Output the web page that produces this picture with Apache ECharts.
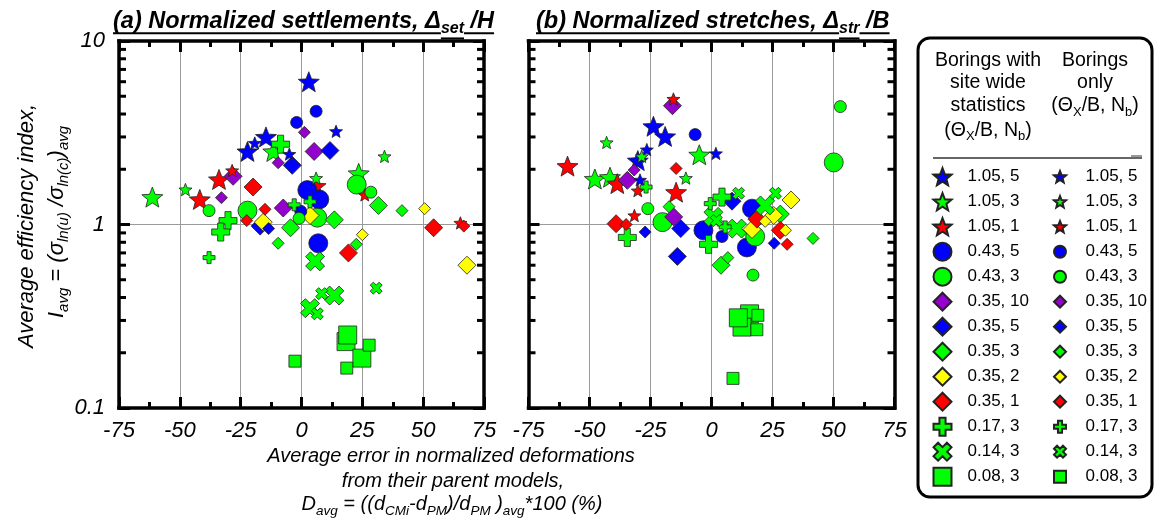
<!DOCTYPE html>
<html>
<head>
<meta charset="utf-8">
<script src="https://cdn.jsdelivr.net/npm/echarts@6/dist/echarts.min.js"></script>
<style>
  html, body { margin: 0; padding: 0; background: #fff; }
  #chart { width: 1154px; height: 531px; }
</style>
</head>
<body>
<div id="chart"></div>
<script>
// ---- Groups: (Theta_x / B, N_b) ----
const groupLabels = ['1.05, 5', '1.05, 3', '1.05, 1', '0.43, 5', '0.43, 3', '0.35, 10',
  '0.35, 5', '0.35, 3', '0.35, 2', '0.35, 1', '0.17, 3', '0.14, 3', '0.08, 3'];

// ---- (a) Normalized settlements: [D_avg (%), I_avg] per group ----
const settleSite = [
  [[3, 6.0], [-14.6, 3.0], [-22.2, 2.5]],
  [[-61.3, 1.41], [-11.6, 2.5], [23.5, 1.9]],
  [[-33.9, 1.76], [-41.8, 1.37], [5.8, 1.62]],
  [[2.4, 1.54], [7.3, 1.37], [6.9, 0.79]],
  [[-22.2, 1.19], [6.5, 1.09], [22.7, 1.65]],
  [[5.2, 2.5], [-7.5, 1.23], [-28.1, 1.83]],
  [[11.7, 2.53], [-3.8, 2.1], [-17, 0.98]],
  [[-4.5, 0.96], [13.5, 1.06], [31.6, 1.27]],
  [[-15.7, 1.03], [3.5, 1.12], [68, 0.6]],
  [[-19.9, 1.6], [54.3, 0.96], [19.3, 0.7]],
  [[-30.2, 1.05], [-33.2, 0.91], [-8.6, 2.74]],
  [[5.6, 0.63], [3.5, 0.35], [13.5, 0.41]],
  [[18.3, 0.23], [24.8, 0.187], [19, 0.25]]
];
const settleBoring = [
  [[-19.2, 2.78], [-5, 2.42], [14.2, 3.22]],
  [[-47.7, 1.55], [34.1, 2.35], [6, 1.79]],
  [[-28.5, 1.97], [65.3, 1.02], [26, 1.45]],
  [[-2, 3.6], [6, 4.14], [-0.3, 1.18]],
  [[-38, 1.19], [-1, 1.08], [28.5, 1.5]],
  [[1.2, 3.18], [-9.6, 2.17], [-32.9, 1.4]],
  [[-13.5, 0.95]],
  [[-9.6, 0.79], [41.3, 1.19], [22.5, 0.78]],
  [[50.6, 1.22], [25, 0.88]],
  [[-15, 1.21], [-22.5, 1.05], [66.7, 0.98]],
  [[-38, 0.66], [-3, 1.28], [3.5, 1.33]],
  [[6.5, 0.326], [8.3, 0.42], [30.7, 0.45]],
  [[-2.7, 0.18], [18.6, 0.165], [27.8, 0.22]]
];

// ---- (b) Normalized stretches: [D_avg (%), I_avg] per group ----
const stretchSite = [
  [[-23.8, 3.43], [-19, 3.02], [-30.2, 2.23]],
  [[-47.8, 1.77], [-41.6, 1.81], [-5, 2.4]],
  [[-59, 2.08], [-38.6, 1.67], [-14.5, 1.5]],
  [[16.6, 1.22], [-3.3, 0.93], [14.5, 0.75]],
  [[-20.1, 1.03], [17.9, 0.86], [50.1, 2.18]],
  [[-16, 4.44], [-34.5, 1.74], [-15.5, 1.1]],
  [[-12.6, 0.95], [-14, 0.67], [8.4, 1.34]],
  [[3.9, 0.6], [28.2, 1.14]],
  [[32.6, 1.36], [25.5, 1.12], [16.6, 0.94]],
  [[-39.1, 1.01], [28.2, 0.93], [18.6, 1.07]],
  [[4.3, 1.41], [-1.2, 0.78], [-34.5, 0.85]],
  [[0.8, 1.1], [10.4, 0.95], [22, 1.27]],
  [[15.6, 0.326], [12.5, 0.276], [11, 0.31]]
];
const stretchBoring = [
  [[-26.5, 2.56], [-29.3, 1.75], [1.8, 2.44]],
  [[-43, 2.8], [-10.5, 1.79], [-28.6, 2.35]],
  [[-15.6, 4.83], [-30.2, 1.53], [-31.6, 1.12]],
  [[-6.7, 3.09], [4.3, 0.86]],
  [[-26.1, 1.22], [52.8, 4.39], [17, 0.53]],
  [[-31.7, 1.98]],
  [[-27.2, 0.91], [25.7, 0.79]],
  [[-17.4, 1.25], [41.6, 0.84], [6.7, 0.66]],
  [[22, 1.04], [30.3, 0.93]],
  [[-14.5, 2.02], [-35, 1.0], [31, 0.78]],
  [[-0.5, 1.3], [5.6, 0.97], [-26.8, 1.6]],
  [[11.1, 1.48], [26.2, 1.48], [2, 1.05]],
  [[8.8, 0.145], [18.6, 0.267], [19, 0.32]]
];

// ---- Axis scales ----
const xMin = -75, xMax = 75, xStep = 25;
const yMin = 0.1, yMax = 10;
const yMinorTicks = [0.2, 0.3, 0.4, 0.5, 0.6, 0.7, 0.8, 0.9, 2, 3, 4, 5, 6, 7, 8, 9];

// ---- Marker shapes ----
function starPath(inner) {
  let d = '';
  for (let i = 0; i < 10; i++) {
    const r = i % 2 ? inner * 100 : 100;
    const a = -Math.PI / 2 + i * Math.PI / 5;
    d += (i ? 'L' : 'M') + (r * Math.cos(a)).toFixed(2) + ',' + (r * Math.sin(a)).toFixed(2);
  }
  return 'path://' + d + 'Z';
}
const plusPts = [[-17, -50], [17, -50], [17, -17], [50, -17], [50, 17], [17, 17], [17, 50],
  [-17, 50], [-17, 17], [-50, 17], [-50, -17], [-17, -17]];
function polyPath(pts) {
  return 'path://' + pts.map((p, i) => (i ? 'L' : 'M') + p[0].toFixed(2) + ',' + p[1].toFixed(2)).join('') + 'Z';
}
const STAR = starPath(0.43);
const PLUS = polyPath(plusPts);
const CROSS = polyPath(plusPts.map(([x, y]) => [(x - y) / Math.SQRT2, (x + y) / Math.SQRT2]));

const BLUE = '#0000ff', GREEN = '#00ff00', RED = '#ff0000', PURPLE = '#9400cc', YELLOW = '#ffff00';
const groupSymbols = [STAR, STAR, STAR, 'circle', 'circle', 'diamond', 'diamond', 'diamond',
  'diamond', 'diamond', PLUS, CROSS, 'rect'];
const groupColors = [BLUE, GREEN, RED, BLUE, GREEN, PURPLE, BLUE, GREEN, YELLOW, RED, GREEN, GREEN, GREEN];
const bigSize = { star: 21, circle: 19, diamond: 18, plus: 18, cross: 19, rect: 18 };
const smallSize = { star: 13, circle: 12, diamond: 12, plus: 12, cross: 12, rect: 12 };
function shapeKey(sym) {
  if (sym === STAR) return 'star';
  if (sym === PLUS) return 'plus';
  if (sym === CROSS) return 'cross';
  return sym;
}

const FONT = '"Liberation Sans", Arial, Helvetica, sans-serif';

// ---- Text runs with subscripts (measured so underlines fit) ----
const measureCtx = document.createElement('canvas').getContext('2d');
function measure(text, size, style, weight) {
  measureCtx.font = `${style} ${weight} ${size}px ${FONT}`;
  return measureCtx.measureText(text).width;
}
function textLine(runs, o) {
  const style = o.style || 'normal', weight = o.weight || 'normal';
  const items = runs.map(([t, sub]) => {
    const size = sub ? o.subSize : o.size;
    return { t, sub, size, w: measure(t, size, style, weight) };
  });
  const total = items.reduce((s, it) => s + it.w, 0);
  let x = o.align === 'left' ? 0 : -total / 2;
  const children = [];
  items.forEach(it => {
    const y = it.sub ? o.drop : 0;
    children.push({
      type: 'text', x, y, silent: true,
      style: { text: it.t, fontSize: it.size, fontFamily: FONT, fontStyle: style, fontWeight: weight,
        fill: '#000', align: 'left', verticalAlign: 'middle' }
    });
    if (o.underline) {
      const uy = y + (it.sub ? it.size * 0.62 : it.size * 0.5);
      children.push({ type: 'line', silent: true, shape: { x1: x, y1: uy, x2: x + it.w, y2: uy },
        style: { stroke: '#000', lineWidth: 2 } });
    }
    x += it.w;
  });
  return { type: 'group', x: o.x, y: o.y, rotation: o.rotation || 0, children };
}

// ---- Axes ----
function bottomX(gridIndex) {
  return {
    type: 'value', gridIndex, position: 'bottom', min: xMin, max: xMax, interval: xStep,
    axisLine: { show: true, onZero: false, lineStyle: { color: '#000', width: 3.5, cap: 'square' } },
    axisTick: { show: true, inside: true, length: 11, lineStyle: { color: '#000', width: 3 } },
    minorTick: { show: true, splitNumber: 2, length: 6, lineStyle: { color: '#000', width: 3 } },
    splitLine: { show: true, lineStyle: { color: '#9a9a9a', width: 1 } },
    axisLabel: { show: true, margin: 12, color: '#000', fontSize: 22, fontStyle: 'italic', fontFamily: FONT }
  };
}
function topX(gridIndex) {
  return {
    type: 'value', gridIndex, position: 'top', min: xMin, max: xMax, interval: xStep,
    axisLine: { show: true, onZero: false, lineStyle: { color: '#000', width: 3.5, cap: 'square' } },
    axisTick: { show: true, inside: true, length: 11, lineStyle: { color: '#000', width: 3 } },
    minorTick: { show: true, splitNumber: 2, length: 6, lineStyle: { color: '#000', width: 3 } },
    splitLine: { show: false }, axisLabel: { show: false }
  };
}
function sideY(gridIndex, position, labels) {
  return {
    type: 'log', logBase: 10, gridIndex, position, min: yMin, max: yMax,
    axisLine: { show: true, onZero: false, lineStyle: { color: '#000', width: 3.5, cap: 'square' } },
    axisTick: { show: true, inside: true, length: 11, lineStyle: { color: '#000', width: 3 } },
    splitLine: { show: position === 'left', lineStyle: { color: '#9a9a9a', width: 1 } },
    axisLabel: { show: labels, margin: 14, color: '#000', fontSize: 22, fontStyle: 'italic', fontFamily: FONT }
  };
}

// Minor ticks at 2..9 of each decade, on both vertical frame edges
function minorTickSeries(xi, yi) {
  return {
    type: 'custom', xAxisIndex: xi, yAxisIndex: yi, silent: true, z: 5, clip: false,
    data: yMinorTicks.map(v => [xMin, v]),
    encode: { x: 0, y: 1 },
    renderItem: (params, api) => {
      const v = api.value(1);
      const p0 = api.coord([xMin, v]);
      const p1 = api.coord([xMax, v]);
      return {
        type: 'group', children: [
          { type: 'line', shape: { x1: p0[0], y1: p0[1], x2: p0[0] + 7, y2: p0[1] }, style: { stroke: '#000', lineWidth: 3 } },
          { type: 'line', shape: { x1: p1[0] - 7, y1: p1[1], x2: p1[0], y2: p1[1] }, style: { stroke: '#000', lineWidth: 3 } }
        ]
      };
    }
  };
}

// ---- Scatter series ----
const series = [];
function addScatter(kind, xi, yi, lists) {
  lists.forEach((pts, g) => {
    const sym = groupSymbols[g];
    const size = (kind === 'site' ? bigSize : smallSize)[shapeKey(sym)];
    series.push({
      type: 'scatter', name: groupLabels[g] + '|' + kind, xAxisIndex: xi, yAxisIndex: yi,
      symbol: sym, symbolSize: size, symbolKeepAspect: true, silent: true,
      itemStyle: { color: groupColors[g], borderColor: '#222', borderWidth: 0.8, opacity: 1 },
      data: pts
    });
  });
}
addScatter('site', 0, 0, settleSite);
addScatter('site', 2, 2, stretchSite);
addScatter('boring', 0, 0, settleBoring);
addScatter('boring', 2, 2, stretchBoring);
series.push(minorTickSeries(0, 0));
series.push(minorTickSeries(2, 2));

// ---- Legend ----
const legendText = { fontSize: 17, fontFamily: FONT, color: '#000', lineHeight: 25 };
const legends = [
  {
    data: groupLabels.map(l => l + '|site'), orient: 'vertical', left: 932.5, top: 164.2,
    itemWidth: 18, itemHeight: 18, itemGap: 0, padding: 0, selectedMode: false,
    formatter: n => n.split('|')[0],
    textStyle: Object.assign({ padding: [0, 0, 0, 11] }, legendText)
  },
  {
    data: groupLabels.map(l => l + '|boring'), orient: 'vertical', left: 1053, top: 164.2,
    itemWidth: 12, itemHeight: 12, itemGap: 0, padding: 0, selectedMode: false,
    formatter: n => n.split('|')[0],
    textStyle: Object.assign({ padding: [0, 0, 0, 14.5] }, legendText)
  }
];

// ---- Titles, axis names and legend frame ----
const thetaRuns = [['(Θ', 0], ['X', 1], ['/B, N', 0], ['b', 1], [')', 0]];
const head = { size: 19.5, subSize: 13, drop: 6 };
const titleFont = { align: 'left', size: 23.5, subSize: 16, drop: 7, style: 'italic', weight: 'bold', underline: true };
const xName = { size: 20, subSize: 13.5, drop: 7, style: 'italic' };
const yName = { size: 22, subSize: 15, drop: 7, style: 'italic', rotation: Math.PI / 2 };
const graphics = [
  { type: 'rect', silent: true, z: -1, shape: { x: 918, y: 38, width: 234, height: 459, r: 12 },
    style: { fill: '#fff', stroke: '#000', lineWidth: 3 } },
  { type: 'line', silent: true, shape: { x1: 933, y1: 158, x2: 1142, y2: 158 }, style: { stroke: '#333', lineWidth: 1.5 } },
  { type: 'line', silent: true, shape: { x1: 1131, y1: 156, x2: 1142, y2: 156 }, style: { stroke: '#333', lineWidth: 1 } },
  textLine([['Borings with', 0]], Object.assign({ x: 988, y: 60.5 }, head)),
  textLine([['site wide', 0]], Object.assign({ x: 988, y: 83 }, head)),
  textLine([['statistics', 0]], Object.assign({ x: 988, y: 106 }, head)),
  textLine(thetaRuns, Object.assign({ x: 988, y: 130.5 }, head)),
  textLine([['Borings', 0]], Object.assign({ x: 1095, y: 60.5 }, head)),
  textLine([['only', 0]], Object.assign({ x: 1095, y: 83 }, head)),
  textLine(thetaRuns, Object.assign({ x: 1095, y: 106 }, head)),

  textLine([['(a) Normalized settlements, Δ', 0], ['set', 1], [' /H', 0]], Object.assign({ x: 113, y: 21.5 }, titleFont)),
  textLine([['(b) Normalized stretches, Δ', 0], ['str', 1], [' /B', 0]], Object.assign({ x: 536, y: 21.5 }, titleFont)),

  textLine([['Average error in normalized deformations', 0]], Object.assign({ x: 451, y: 456 }, xName)),
  textLine([['from their parent models,', 0]], Object.assign({ x: 453, y: 481 }, xName)),
  textLine([['D', 0], ['avg', 1], [' = ((d', 0], ['CMi', 1], ['-d', 0], ['PM', 1], [')/d', 0], ['PM', 1],
    [' )', 0], ['avg', 1], ['*100 (%)', 0]], Object.assign({ x: 452, y: 504 }, xName)),

  textLine([['Average efficiency index,', 0]], Object.assign({ x: 27, y: 226 }, yName)),
  textLine([['I', 0], ['avg', 1], [' = (σ', 0], ['ln(u)', 1], [' /σ', 0], ['ln(c)', 1], [')', 0], ['avg', 1]],
    Object.assign({ x: 57, y: 222 }, yName))
];

const chart = echarts.init(document.getElementById('chart'), null, { renderer: 'canvas' });
chart.setOption({
  animation: false,
  backgroundColor: '#fff',
  textStyle: { fontFamily: FONT },
  grid: [
    { left: 119, top: 41, width: 365, height: 367, containLabel: false },
    { left: 528.5, top: 41, width: 366, height: 367, containLabel: false }
  ],
  xAxis: [bottomX(0), topX(0), bottomX(1), topX(1)],
  yAxis: [sideY(0, 'left', true), sideY(0, 'right', false), sideY(1, 'left', false), sideY(1, 'right', false)],
  legend: legends,
  graphic: graphics,
  series
});
</script>
</body>
</html>
